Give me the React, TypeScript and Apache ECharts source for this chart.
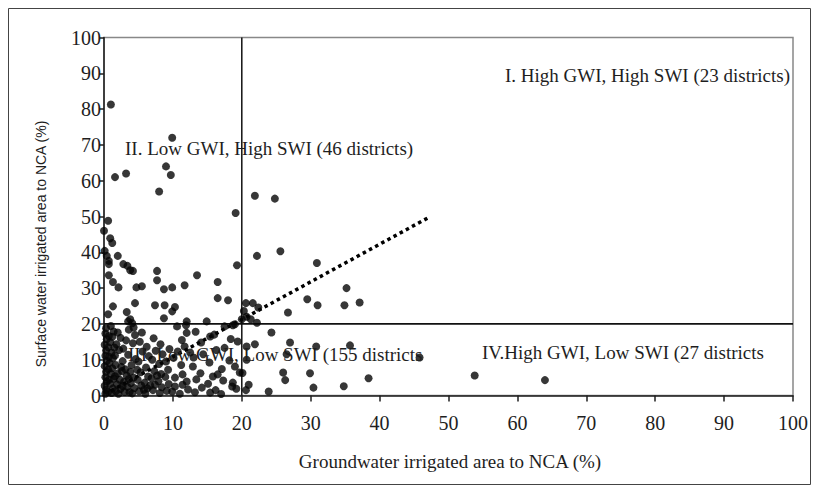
import React, { useEffect, useRef } from "react";
import * as echarts from "echarts";

// Quadrant I: High GWI, High SWI
const quadrantI: number[][] = [
  [21.9, 55.8], [24.8, 55.0], [22.2, 39.0], [25.6, 40.3], [30.9, 37.0],
  [35.2, 30.0], [29.5, 26.9], [31.0, 25.2], [34.9, 25.2], [37.1, 26.0],
  [26.7, 23.2], [20.6, 25.8], [21.6, 25.8], [20.7, 22.0], [21.3, 21.3],
  [22.4, 24.6], [20.3, 23.6],
];

// Quadrant II: Low GWI, High SWI
const quadrantII: number[][] = [
  [1.0, 81.3], [1.6, 61.0], [3.2, 62.0], [9.9, 72.0], [9.0, 64.0], [9.7, 61.6],
  [8.0, 57.0], [19.1, 51.0], [0.6, 48.8], [0.0, 46.0], [0.9, 43.9], [1.2, 42.6],
  [0.1, 40.4], [0.4, 39.0], [0.7, 37.6], [0.7, 36.7], [0.7, 33.6], [1.3, 31.7],
  [2.1, 30.2], [2.0, 39.0], [2.8, 36.7], [3.4, 36.2], [3.8, 35.0], [4.2, 34.8],
  [4.7, 30.2], [5.5, 30.5], [1.3, 24.9], [0.6, 22.7], [4.5, 25.8], [3.3, 23.3],
  [3.5, 20.7], [4.1, 20.2], [7.7, 34.8], [7.7, 32.2], [8.7, 29.7], [9.9, 30.2],
  [7.4, 25.2], [8.8, 25.2], [10.3, 24.7], [9.9, 23.5], [8.7, 21.6], [11.7, 30.8],
  [13.5, 33.6], [16.5, 31.7], [16.5, 27.2], [18.0, 26.6], [19.3, 36.4], [14.9, 20.7],
  [12.0, 20.7], [20.0, 21.3], [3.8, 21.3],
];

// Quadrant III: Low GWI, Low SWI
const quadrantIII: number[][] = [
  [0.2, 0.5], [0.3, 1.6], [0.1, 2.7], [0.4, 3.9], [0.2, 5.1], [0.3, 6.6], [0.1, 8.2],
  [0.4, 9.6], [0.2, 11.1], [0.3, 12.6], [0.1, 14.2], [0.4, 15.7], [0.2, 17.3], [0.3, 18.8],
  [1.1, 0.7], [1.3, 2.0], [0.9, 3.3], [1.4, 4.7], [1.0, 6.1], [1.2, 7.6], [0.8, 9.1],
  [1.3, 10.4], [1.1, 12.0], [1.5, 13.4], [0.9, 14.9], [1.2, 16.4], [1.4, 17.9], [1.0, 19.4],
  [2.1, 0.5], [2.4, 1.8], [1.9, 3.1], [2.3, 4.4], [2.0, 6.2], [2.5, 8.0], [2.2, 12.7],
  [1.8, 14.3], [2.4, 16.1], [2.0, 17.6],
  [3.0, 1.0], [3.4, 2.4], [2.9, 3.8], [3.3, 5.5], [3.1, 7.3], [3.5, 11.4], [2.8, 13.1],
  [3.2, 15.4], [3.6, 18.4],
  [4.1, 0.6], [4.4, 2.1], [3.9, 3.5], [4.3, 5.0], [4.0, 8.5], [4.6, 10.2], [4.2, 14.6],
  [4.5, 16.9], [4.3, 19.0],
  [5.1, 1.2], [5.4, 2.8], [4.9, 4.4], [5.3, 6.5], [5.0, 9.5], [5.6, 12.3], [5.2, 15.0], [5.5, 17.6],
  [6.0, 0.5], [6.3, 2.0], [5.9, 3.6], [6.4, 5.3], [6.1, 7.8], [6.5, 11.0], [6.2, 13.6],
  [7.1, 1.5], [7.4, 3.0], [6.9, 4.8], [7.3, 6.8], [7.0, 10.0], [7.5, 12.5], [7.2, 16.0],
  [8.1, 0.7], [8.4, 2.3], [7.9, 4.0], [8.3, 6.0], [8.0, 8.8], [8.5, 11.5], [8.2, 14.3],
  [9.1, 1.3], [9.4, 3.2], [8.9, 5.2], [9.3, 7.2], [9.0, 9.5], [9.5, 13.0],
  [9.9, 1.1], [10.3, 2.5], [10.3, 5.0], [10.1, 10.5], [10.7, 12.3], [10.6, 19.3],
  [11.0, 0.5], [11.4, 3.0], [11.4, 5.9], [11.2, 8.5], [11.7, 13.7], [11.3, 15.5],
  [12.2, 1.7], [12.0, 3.9], [12.5, 12.0], [12.0, 17.5], [11.9, 19.6],
  [12.9, 8.1], [13.2, 0.9], [13.4, 4.5], [13.0, 10.6], [13.3, 17.8],
  [14.2, 2.2], [14.0, 6.2], [14.4, 11.5], [14.1, 14.8],
  [15.4, 0.8], [15.1, 3.3], [15.3, 9.2], [15.4, 16.5], [16.0, 17.0],
  [15.8, 5.3], [16.5, 5.9], [16.2, 1.5], [16.3, 12.7],
  [17.0, 0.4], [17.3, 4.2], [17.1, 7.4], [17.5, 13.3], [17.5, 19.3],
  [18.6, 2.5], [18.7, 3.6], [18.2, 9.8], [18.4, 15.8], [18.7, 19.6],
  [19.0, 8.1], [19.7, 6.4], [19.4, 15.1], [19.0, 19.9], [19.2, 1.9],
  [0.6, 1.0], [0.7, 4.4], [0.6, 7.3], [0.7, 10.8], [0.6, 13.5], [0.7, 16.6],
  [1.7, 1.2], [1.6, 5.4], [1.7, 8.5], [1.6, 11.2], [2.7, 2.6], [2.6, 6.8], [2.7, 9.6],
  [3.7, 0.9], [3.8, 6.6], [4.8, 7.2], [5.8, 1.6], [6.7, 2.8], [7.7, 5.6], [3.6, 4.6],
];

// Quadrant IV: High GWI, Low SWI
const quadrantIV: number[][] = [
  [22.2, 20.3], [24.3, 17.6], [27.0, 14.8], [26.5, 11.5], [20.7, 13.7], [21.9, 14.3],
  [45.8, 10.6], [53.8, 5.6], [64.0, 4.3], [30.8, 13.7], [35.7, 14.0], [26.0, 6.4],
  [26.3, 4.3], [29.9, 6.2], [30.4, 2.2], [34.8, 2.6], [38.4, 4.8], [23.9, 1.1],
  [20.7, 10.0], [20.1, 6.3], [21.0, 3.0], [20.6, 1.5],
];

const trendLine: number[][] = [[1.0, 1.3], [47.0, 49.6]];
const gwiThreshold = 20;
const swiThreshold = 20;

const xTickValues = [0, 10, 20, 30, 40, 50, 60, 70, 80, 90, 100];
const yTickValues = [0, 10, 20, 30, 40, 50, 60, 70, 80, 90, 100];

const quadrantLabels = [
  "I. High GWI, High SWI (23 districts)",
  "II. Low GWI, High SWI (46 districts)",
  "III. Low GWI, Low SWI (155 districts",
  "IV.High GWI, Low SWI (27 districts",
];
const xAxisTitle = "Groundwater irrigated area to NCA (%)";
const yAxisTitle = "Surface water irrigated area to NCA (%)";

const SERIF = '"Liberation Serif", "Times New Roman", serif';
const SANS = '"Liberation Sans", Arial, sans-serif';
const INK = "#1e1e1e";

export default function App() {
  const ref = useRef<HTMLDivElement>(null);

  useEffect(() => {
    if (!ref.current) return;
    const chart = echarts.init(ref.current, null, { renderer: "svg" });

    const dotSeries = (name: string, data: number[][]) => ({
      name,
      type: "scatter",
      data,
      symbol: "circle",
      symbolSize: 8,
      itemStyle: { color: "#050505" },
      z: 5,
    });

    const axisCommon = {
      type: "value",
      min: xTickValues[0],
      max: xTickValues[xTickValues.length - 1],
      interval: 10,
      splitLine: { show: false },
      axisLine: { show: true, lineStyle: { color: INK, width: 1.5 } },
    };

    chart.setOption({
      animation: false,
      backgroundColor: "#fff",
      grid: {
        left: 104,
        right: 25,
        top: 37.5,
        bottom: 96.5,
        show: true,
        borderColor: "#888",
        borderWidth: 1.5,
        containLabel: false,
      },
      xAxis: {
        ...axisCommon,
        axisTick: { show: true, inside: false, length: 6, lineStyle: { color: INK, width: 1.5 } },
        axisLabel: {
          margin: 17,
          fontFamily: SERIF,
          fontSize: 20,
          color: INK,
        },
      },
      yAxis: {
        ...axisCommon,
        min: yTickValues[0],
        max: yTickValues[yTickValues.length - 1],
        axisTick: { show: true, inside: false, length: 5, lineStyle: { color: INK, width: 1.5 } },
        axisLabel: {
          margin: 3,
          fontFamily: SERIF,
          fontSize: 20,
          color: INK,
        },
      },
      series: [
        {
          type: "line",
          data: [[gwiThreshold, 0], [gwiThreshold, 100]],
          symbol: "none",
          lineStyle: { color: "#111", width: 1.5 },
          z: 3,
        },
        {
          type: "line",
          data: [[0, swiThreshold], [100, swiThreshold]],
          symbol: "none",
          lineStyle: { color: "#111", width: 1.8 },
          z: 3,
        },
        {
          type: "line",
          data: trendLine,
          symbol: "none",
          lineStyle: { color: "#000", width: 3.5, type: [3.5, 3.5] },
          z: 4,
        },
        dotSeries("I", quadrantI),
        dotSeries("II", quadrantII),
        dotSeries("III", quadrantIII),
        dotSeries("IV", quadrantIV),
      ],
      graphic: [
        {
          type: "rect",
          shape: { x: 8.5, y: 8.5, width: 802, height: 476 },
          style: { fill: "none", stroke: "#444", lineWidth: 1 },
          silent: true,
        },
        {
          type: "text",
          x: 505,
          y: 75,
          style: { text: quadrantLabels[0], font: `19px ${SERIF}`, fill: INK, align: "left", verticalAlign: "middle" },
          z: 10,
        },
        {
          type: "text",
          x: 125,
          y: 148,
          style: { text: quadrantLabels[1], font: `19px ${SERIF}`, fill: INK, align: "left", verticalAlign: "middle" },
          z: 10,
        },
        {
          type: "text",
          x: 128,
          y: 354,
          style: { text: quadrantLabels[2], font: `19px ${SERIF}`, fill: INK, align: "left", verticalAlign: "middle" },
          z: 10,
        },
        {
          type: "text",
          x: 482,
          y: 352,
          style: { text: quadrantLabels[3], font: `19px ${SERIF}`, fill: INK, align: "left", verticalAlign: "middle" },
          z: 10,
        },
        {
          type: "text",
          x: 450,
          y: 461,
          style: { text: xAxisTitle, font: `19px ${SERIF}`, fill: INK, align: "center", verticalAlign: "middle" },
        },
        {
          type: "text",
          x: 41,
          y: 244,
          rotation: Math.PI / 2,
          style: { text: yAxisTitle, font: `14px ${SANS}`, fill: INK, align: "center", verticalAlign: "middle" },
        },
      ],
    });

    return () => chart.dispose();
  }, []);

  return (
    <div
      ref={ref}
      style={{ position: "absolute", left: 0, top: 0, width: 818, height: 492 }}
    />
  );
}
